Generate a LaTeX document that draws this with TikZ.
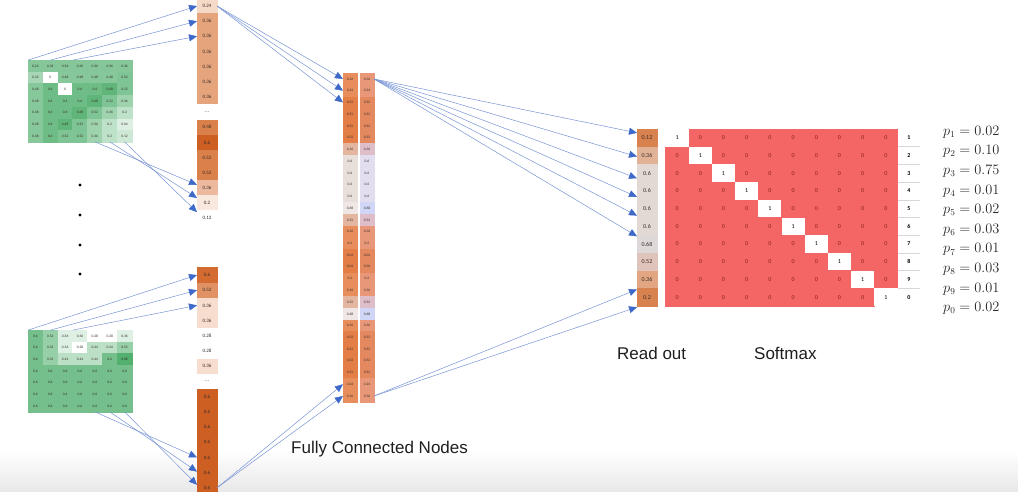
\documentclass[tikz,border=0pt]{standalone}
\usepackage{fontspec}
\setmainfont{Liberation Sans}
\newfontfamily\cellf{Carlito}
\usetikzlibrary{arrows.meta}
\newcommand\ellcell{\textcolor{gray}{\fontsize{7}{7}\selectfont ...}}
\definecolor{gbase}{RGB}{70,170,100}
\definecolor{arrowline}{RGB}{120,148,212}
\definecolor{arrowhead}{RGB}{62,105,200}
\definecolor{celltext}{RGB}{55,45,40}
\definecolor{labtext}{RGB}{30,30,30}
\definecolor{oa}{RGB}{246,218,200}
\definecolor{ob}{RGB}{230,164,124}
\definecolor{oc}{RGB}{218,128,75}
\definecolor{od}{RGB}{205,95,35}
\definecolor{oe}{RGB}{236,185,158}
\definecolor{of}{RGB}{248,232,222}
\definecolor{og}{RGB}{247,221,206}
\definecolor{oh}{RGB}{212,108,50}
\definecolor{oi}{RGB}{224,146,100}
\definecolor{mo}{RGB}{232,142,92}
\definecolor{md}{RGB}{226,126,70}
\definecolor{mt}{RGB}{228,182,160}
\definecolor{ml}{RGB}{232,222,218}
\definecolor{mw}{RGB}{238,231,229}
\definecolor{mo2}{RGB}{232,152,120}
\definecolor{md2}{RGB}{228,136,96}
\definecolor{mt2}{RGB}{222,190,200}
\definecolor{ml2}{RGB}{226,222,240}
\definecolor{mw2}{RGB}{208,214,246}
\definecolor{ra}{RGB}{216,130,80}
\definecolor{rb}{RGB}{226,178,150}
\definecolor{rc}{RGB}{226,216,212}
\definecolor{rd}{RGB}{222,216,216}
\definecolor{re}{RGB}{222,196,186}
\definecolor{rf}{RGB}{226,166,130}
\definecolor{smred}{RGB}{244,102,102}
\definecolor{zerotext}{RGB}{140,30,30}
\definecolor{sepline}{RGB}{215,215,215}
\definecolor{ptext}{RGB}{40,40,40}
\tikzset{
  cellbase/.style={inner sep=0pt, outer sep=0pt, anchor=center, text=celltext,
    font=\cellf\fontsize{3.6}{4}\selectfont},
  gcell/.style={cellbase, minimum width=14.86pt, minimum height=11.43pt},
  colcell/.style={cellbase, minimum width=20pt, minimum height=15.15pt,
    font=\cellf\fontsize{5}{6}\selectfont},
  midcell/.style={cellbase, minimum width=14pt, minimum height=11.74pt},
  rocell/.style={cellbase, minimum width=20pt, minimum height=17.7pt,
    font=\cellf\fontsize{6}{7}\selectfont},
  smcell/.style={cellbase, minimum width=23.2pt, minimum height=17.7pt,
    font=\cellf\fontsize{6}{7}\selectfont},
  rowlab/.style={cellbase, minimum width=22pt, minimum height=17.7pt, text=black,
    font=\cellf\bfseries\fontsize{6}{7}\selectfont},
  dotnode/.style={circle, fill=black, inner sep=0pt, minimum size=3.4pt},
  arr/.style={draw=arrowline, line width=0.5pt,
    -{Triangle[length=8pt,width=7pt,color=arrowhead]}},
  lab/.style={font=\fontsize{17}{20}\selectfont, text=labtext, anchor=west, inner sep=0pt},
  pval/.style={font=\fontsize{13.5}{16}\selectfont, text=ptext, anchor=west, inner sep=0pt},
}
\begin{document}
\begin{tikzpicture}[x=1pt,y=-1pt]
\useasboundingbox (0,0) rectangle (1018,492);
\fill[white] (0,0) rectangle (1018,492);
\shade[top color=white, bottom color=black!9] (0,450) rectangle (1018,492);

% ---------- green input matrices ----------
\foreach \row [count=\r] in {{0.24,0.36,0.36,0.36,0.36,0.36,0.36},
  {0.32,0,0.48,0.48,0.48,0.48,0.52},{0.48,0.6,0,0.6,0.6,0.68,0.52},
  {0.48,0.6,0.6,0.6,0.68,0.52,0.36},{0.48,0.6,0.6,0.68,0.52,0.36,0.2},
  {0.48,0.6,0.68,0.52,0.36,0.2,0.04},{0.48,0.6,0.52,0.52,0.36,0.2,0.12}}{
  \foreach \v [count=\c] in \row {
    \pgfmathtruncatemacro\pc{\v==0 ? 0 : (\r==1 ? 66 : 15+105*\v)}
    \node[gcell, fill=gbase!\pc!white, draw=gbase!\pc!white, line width=0.2pt]
      (ga-\r-\c) at ({28+(\c-0.5)*14.86},{60+(\r-0.5)*11.71}) {\v};
  }
}
\foreach \row [count=\r] in {{0.6,0.52,0.36,0.36,0.28,0.28,0.36},
  {0.6,0.52,0.36,0.28,0.44,0.44,0.52},{0.6,0.52,0.44,0.44,0.44,0.6,0.68},
  {0.6,0.6,0.6,0.6,0.6,0.6,0.6},{0.6,0.6,0.6,0.6,0.6,0.6,0.6},
  {0.6,0.6,0.6,0.6,0.6,0.6,0.6},{0.6,0.6,0.6,0.6,0.6,0.6,0.6}}{
  \foreach \v [count=\c] in \row {
    \pgfmathtruncatemacro\pc{max(0,(\v-0.28)*235)}
    \node[gcell, fill=gbase!\pc!white, draw=gbase!\pc!white, line width=0.2pt]
      (gb-\r-\c) at ({28+(\c-0.5)*14.86},{330+(\r-0.5)*11.71}) {\v};
  }
}

% vertical dots
\node[dotnode] (d1) at (80,185) {};
\node[dotnode] (d2) at (80,215) {};
\node[dotnode] (d3) at (80,245) {};
\node[dotnode] (d4) at (80,274) {};

% ---------- first columns ----------
\foreach \v/\col [count=\i] in {0.24/oa,0.36/ob,0.36/ob,0.36/ob,0.36/ob,0.36/ob,0.36/ob,
  \ellcell/white,0.48/oc,0.6/od,0.52/oc,0.52/oc,0.36/oe,0.2/of,0.12/white}{
  \node[colcell, fill=\col, draw=\col, line width=0.2pt] (tc\i) at (207,{6+(\i-1)*15.15}) {\v};
}
\foreach \v/\col [count=\i] in {0.6/oh,0.52/oi,0.36/og,0.36/og,0.28/white,0.28/white,0.36/og,
  \ellcell/white,0.6/od,0.6/od,0.6/od,0.6/od,0.6/od,0.6/od,0.6/od}{
  \node[colcell, fill=\col, draw=\col, line width=0.2pt] (bc\i) at (207,{275+(\i-1)*15.2}) {\v};
}

% ---------- fully connected columns ----------
\foreach \v/\ca/\cb [count=\i] in {0.36/mo/mo2,0.24/mo/mo2,0.52/md/md2,0.52/md/md2,0.52/md/md2,
  0.52/md/md2,0.36/mt/mt2,0.6/ml/ml2,0.6/ml/ml2,0.6/ml/ml2,0.6/ml/ml2,0.68/mw/mw2,0.52/mt/mt2,
  0.36/mo/mo2,0.2/mo/mo2,0.04/md/md2,0.04/md/md2,0.2/mo/mo2,0.36/mo/mo2,0.52/mt/mt2,
  0.68/mw/mw2,0.36/mo/mo2,0.52/md/md2,0.52/md/md2,0.52/md/md2,0.52/md/md2,0.24/mo/mo2,0.36/mo/mo2}{
  \node[midcell, fill=\ca, draw=\ca, line width=0.2pt] (ma\i) at (350,{79+(\i-1)*11.74}) {\v};
  \node[midcell, fill=\cb, draw=\cb, line width=0.2pt] (mb\i) at (367,{79+(\i-1)*11.74}) {\v};
}

% ---------- read out ----------
\foreach \v/\col [count=\i] in {0.12/ra,0.36/rb,0.6/rc,0.6/rc,0.6/rc,0.6/rc,0.68/rd,0.52/re,0.36/rf,0.2/ra}{
  \node[rocell, fill=\col, draw=\col, line width=0.2pt] (ro\i) at (647,{129+(\i-0.5)*17.7}) {\v};
}

% ---------- softmax one-hot matrix ----------
\foreach \r in {1,...,10}{
  \foreach \c in {1,...,10}{
    \ifnum\r=\c\relax
      \node[smcell, fill=white, text=black] (s-\r-\c) at ({665.5+(\c-0.5)*23.2},{129+(\r-0.5)*17.7}) {1};
    \else
      \node[smcell, fill=smred, draw=smred, line width=0.3pt, text=zerotext]
        (s-\r-\c) at ({665.5+(\c-0.5)*23.2},{129+(\r-0.5)*17.7}) {0};
    \fi
  }
}
\foreach \l [count=\r] in {1,2,3,4,5,6,7,8,9,0}{
  \node[rowlab] (lab\r) at (909,{129+(\r-0.5)*17.7}) {\l};
}
\foreach \r in {1,...,9}{
  \draw[sepline, line width=0.5pt] (lab\r.south west) -- (lab\r.south east);
}

% ---------- probabilities ----------
\foreach \k/\p [count=\i] in {1/0.02,2/0.10,3/0.75,4/0.01,5/0.02,6/0.03,7/0.01,8/0.03,9/0.01,0/0.02}{
  \node[pval] (p\i) at (943,{132+(\i-1)*19.6}) {$p_{\k} = \p$};
}

% ---------- labels ----------
\node[lab] (readout) at (617,353) {Read out};
\node[lab] (softmax) at (754,353) {Softmax};
\node[lab] (fcn) at (291,449) {Fully Connected Nodes};

% ---------- connectors ----------
\draw[arr] (ga-1-1.north west) -- (tc1.west);
\draw[arr] (ga-1-2.north) -- (tc2.west);
\draw[arr] (ga-1-3.north east) -- (tc3.west);
\draw[arr] (ga-7-5.south) -- ([yshift=3pt]tc13.west);
\draw[arr] (ga-7-6.south) -- ([yshift=5pt]tc14.west);
\draw[arr] (ga-7-7.south) -- ([yshift=6pt]tc15.west);

\draw[arr] (gb-1-1.north west) -- (bc1.west);
\draw[arr] (gb-1-2.north) -- (bc2.west);
\draw[arr] (gb-1-3.north east) -- (bc3.west);
\draw[arr] (gb-7-5.south) -- (bc13.west);
\draw[arr] (gb-7-6.south) -- ([yshift=1pt]bc14.west);
\draw[arr] (gb-7-7.south) -- ([yshift=3pt]bc15.west);

\draw[arr] (tc1.east) -- (ma1.west);
\draw[arr] (tc1.east) -- (ma2.west);
\draw[arr] (tc1.east) -- (ma3.west);
\draw[arr] (bc15.east) -- (ma27.west);
\draw[arr] (bc15.east) -- (ma28.west);

\draw[arr] (mb1.east) -- ([yshift=5pt]ro1.west);
\draw[arr] (mb1.east) -- ([yshift=-1pt]ro2.west);
\draw[arr] (mb1.east) -- ([yshift=-5pt]ro3.west);
\draw[arr] (mb1.east) -- ([yshift=-6pt]ro4.west);
\draw[arr] (mb1.east) -- ([yshift=-7pt]ro5.west);
\draw[arr] (mb1.east) -- ([yshift=-10pt]ro6.west);
\draw[arr] (mb28.east) -- ([yshift=-10pt]ro9.west);
\draw[arr] (mb28.east) -- ([yshift=-10pt]ro10.west);
\end{tikzpicture}
\end{document}
